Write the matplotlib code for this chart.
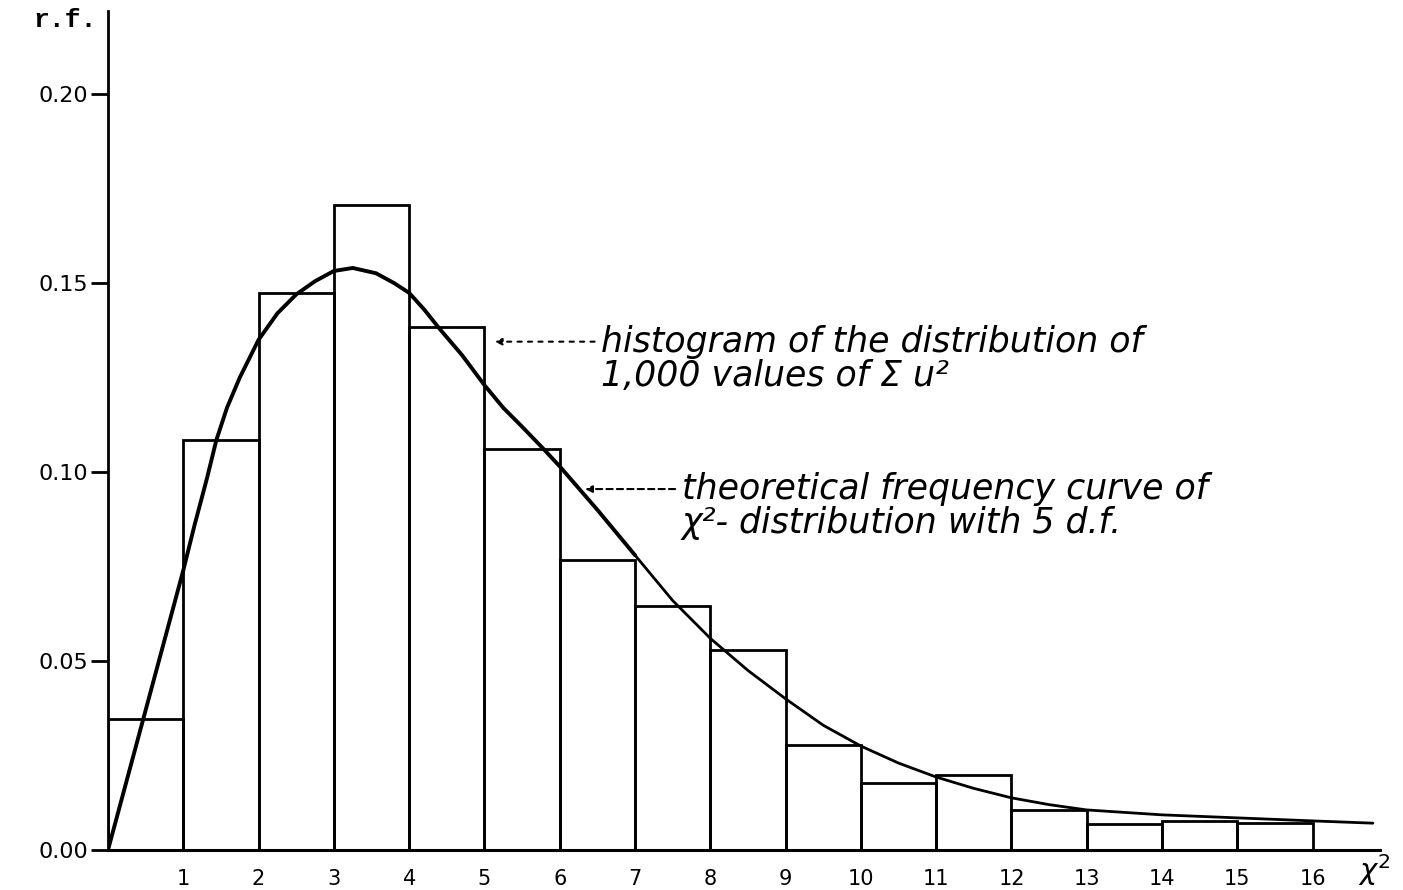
import numpy as np
import matplotlib
matplotlib.use("Agg")
import matplotlib.pyplot as plt

# histogram of 1,000 values of sum u^2 (relative frequencies, unit classes)
bin_edges = np.arange(0, 17)
rel_freq = [0.0347, 0.1085, 0.1475, 0.1706, 0.1385, 0.1060, 0.0767, 0.0645,
            0.0530, 0.0278, 0.0177, 0.0198, 0.0106, 0.0069, 0.0077, 0.0071]

# theoretical curve
curve_x = [0, 0.5, 1, 1.15, 1.31, 1.44, 1.58, 1.75, 2, 2.25, 2.5, 2.75, 3,
           3.25, 3.56, 3.8, 4, 4.2, 4.4, 4.7, 5, 5.25, 5.5, 5.79, 6, 6.5, 7,
           7.5, 8, 8.5, 9, 9.5, 10, 10.5, 11, 11.5, 12, 12.5, 13, 14, 15, 16,
           16.8]
curve_y = [0, 0.037, 0.074, 0.086, 0.098, 0.1085, 0.117, 0.125, 0.135, 0.142,
           0.147, 0.1505, 0.1532, 0.154, 0.1526, 0.150, 0.1474, 0.143, 0.138,
           0.131, 0.123, 0.117, 0.112, 0.106, 0.1015, 0.090, 0.078, 0.066,
           0.056, 0.0475, 0.040, 0.033, 0.0275, 0.023, 0.0193, 0.0163, 0.0138,
           0.012, 0.0106, 0.0093, 0.0085, 0.0077, 0.0071]

y_ticks = [0.00, 0.05, 0.10, 0.15, 0.20]
y_labels = ["0.00", "0.05", "0.10", "0.15", "0.20"]
x_ticks = list(range(1, 17))

fig = plt.figure(figsize=(14.03, 8.9), dpi=100)
ax = fig.add_axes([108 / 1403, 40 / 890, 1 - 108 / 1403, 850 / 890])
ax.set_xlim(0, 17.2)
ax.set_ylim(0, 0.2249)

ax.bar(bin_edges[:-1], rel_freq, width=1, align="edge", fill=False,
       edgecolor="black", linewidth=2)
# thicker line near the peak, thinner in the tail
k = curve_x.index(7)
ax.plot(curve_x[:k + 1], curve_y[:k + 1], color="black", linewidth=2.8,
        solid_capstyle="round", solid_joinstyle="round")
ax.plot(curve_x[k:], curve_y[k:], color="black", linewidth=2.0,
        solid_capstyle="round", solid_joinstyle="round")

for s in ["top", "right"]:
    ax.spines[s].set_visible(False)
ax.spines["left"].set_linewidth(2)
ax.spines["bottom"].set_linewidth(2.2)
ax.spines["left"].set_bounds(0, 0.222)
ax.spines["bottom"].set_bounds(0, 16.9)

ax.set_yticks(y_ticks)
ax.set_yticklabels(y_labels, fontsize=16, family="DejaVu Sans")
ax.tick_params(axis="y", length=12, width=2, pad=2)
ax.set_xticks(x_ticks)
ax.set_xticklabels([str(t) for t in x_ticks], fontsize=15, family="DejaVu Sans")
ax.tick_params(axis="x", length=0, pad=14)

fig.text(33 / 1403, 1 - 20 / 890, "r.f.", fontsize=19, family="Liberation Mono",
         weight="bold", ha="left", va="center")
fig.text(1374 / 1403, 1 - 870 / 890, r"$\chi^2$", fontsize=21,
         ha="center", va="center")

note = dict(fontsize=25, family="DejaVu Sans", style="oblique",
            ha="left", va="center")
ax.text(6.55, 0.1345, "histogram of the distribution of", **note)
ax.text(6.55, 0.1255, "1,000 values of Σ u²", **note)
ax.annotate("", xy=(5.1, 0.1345), xytext=(6.5, 0.1345),
            arrowprops=dict(arrowstyle="-|>", linestyle=(0, (2, 3)), lw=1.5,
                            color="black"))
ax.text(7.62, 0.0955, "theoretical frequency curve of", **note)
ax.text(7.62, 0.0865, "χ²- distribution with 5 d.f.", **note)
ax.annotate("", xy=(6.3, 0.0955), xytext=(7.57, 0.0955),
            arrowprops=dict(arrowstyle="-|>", linestyle=(0, (3, 2)), lw=1.5,
                            color="black"))

fig.savefig("out.png", dpi=100)
